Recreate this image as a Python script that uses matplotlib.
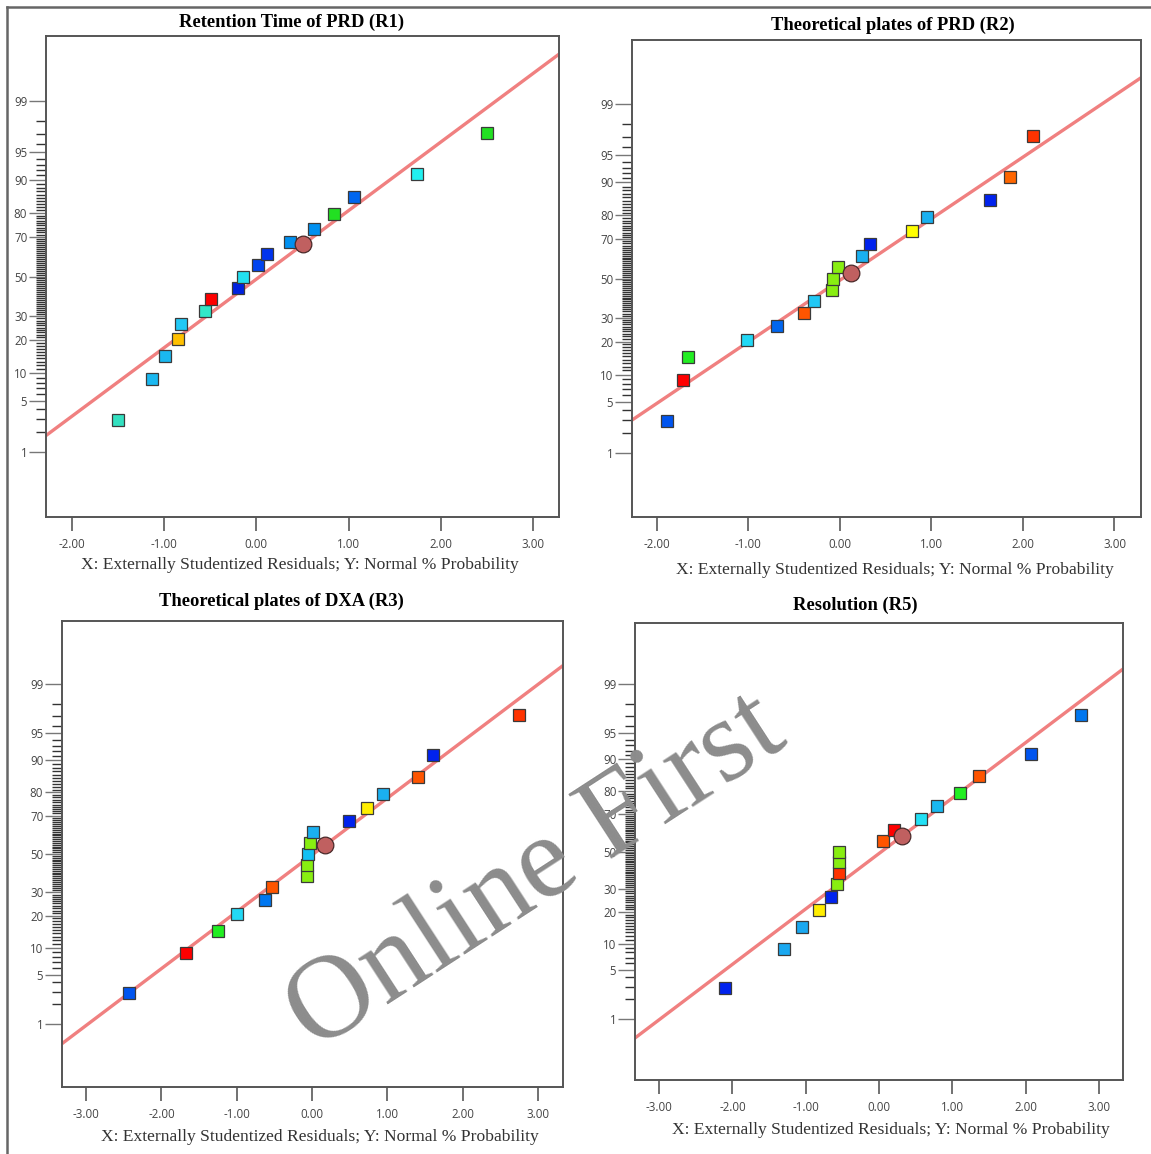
import matplotlib
matplotlib.use('Agg')
import matplotlib.pyplot as plt
import numpy as np
from matplotlib.lines import Line2D
from matplotlib.ticker import FixedLocator, NullFormatter, FormatStrFormatter
from statistics import NormalDist

plt.rcParams['axes.unicode_minus'] = False

W, H = 1151, 1154

# --------------------------------------------------
# DATA
# --------------------------------------------------

titles = ["Retention Time of PRD (R1)", "Theoretical plates of PRD (R2)",
          "Theoretical plates of DXA (R3)", "Resolution (R5)"]
xlabel = "X: Externally Studentized Residuals; Y: Normal % Probability"

# normal % probability of the ranked runs (same 17 levels on each plot)
probs = [2.9, 8.8, 14.7, 20.6, 26.5, 32.4, 38.2, 44.1, 50.0,
         55.9, 61.8, 67.6, 73.5, 79.4, 85.3, 91.2, 97.1]

resid_r1 = [-1.50, -1.13, -0.99, -0.85, -0.82, -0.56, -0.49, -0.20, -0.14,
            0.02, 0.12, 0.36, 0.62, 0.84, 1.06, 1.74, 2.50]
resid_r2 = [-1.89, -1.71, -1.66, -1.01, -0.69, -0.39, -0.28, -0.08, -0.07,
            -0.02, 0.24, 0.33, 0.79, 0.95, 1.64, 1.86, 2.11]
resid_r3 = [-2.43, -1.67, -1.25, -1.00, -0.62, -0.53, -0.07, -0.07, -0.06,
            -0.03, 0.01, 0.49, 0.73, 0.94, 1.41, 1.60, 2.74]
resid_r5 = [-2.10, -1.30, -1.05, -0.82, -0.65, -0.58, -0.55, -0.54, -0.54,
            0.05, 0.21, 0.57, 0.79, 1.10, 1.37, 2.07, 2.75]

colors_r1 = ['#33e0c0', '#1ab8f0', '#1ab8f0', '#ffc000', '#22c8f5', '#33e8c8',
             '#ff0000', '#0022e0', '#22e0f0', '#0044f0', '#0033ee', '#0090f0',
             '#0090f0', '#22e022', '#0066f0', '#22f0f0', '#22e022']
colors_r2 = ['#0055f0', '#ff0000', '#22ee22', '#22d8f5', '#0066f0', '#ff5500',
             '#22c8f5', '#88ee11', '#88ee11', '#88ee11', '#1ab0f0', '#0022ee',
             '#ffff00', '#1ab0f0', '#0022ee', '#ff6600', '#ff3300']
colors_r3 = ['#0055f0', '#ff0000', '#22ee22', '#22d8f5', '#0077f0', '#ff5500',
             '#88ee11', '#88ee11', '#11c0f5', '#88ee11', '#1ab0f0', '#0022ee',
             '#ffee00', '#1ab0f0', '#ff5500', '#0022ee', '#ff3300']
colors_r5 = ['#0022ee', '#1aa8f0', '#1aa8f0', '#ffee00', '#0022ee', '#88ee11',
             '#ff3300', '#88ee11', '#88ee11', '#ff5500', '#ff0000', '#22e0f5',
             '#1ab8f0', '#22ee22', '#ff5500', '#0055f0', '#0077f0']

# highlighted point (x, %)
circle_x = [0.50, 0.12, 0.165, 0.32]
circle_p = [66.5, 53.0, 54.8, 58.5]

# reference line: z = intercept + slope * x
line_icpt = [-0.035, -0.024, -0.012, -0.028]
line_slope = [0.907, 0.821, 0.776, 0.771]

xlims = [(-2.28, 3.28), (-2.27, 3.29), (-3.32, 3.33), (-3.33, 3.33)]
xticks = [[-2, -1, 0, 1, 2, 3], [-2, -1, 0, 1, 2, 3],
          [-3, -2, -1, 0, 1, 2, 3], [-3, -2, -1, 0, 1, 2, 3]]
ymajor = [1, 5, 10, 20, 30, 50, 70, 80, 90, 95, 99]
z_lim = 3.18

# --------------------------------------------------
# LAYOUT (pixel boxes: left, top, right, bottom)
# --------------------------------------------------
boxes = [(46, 36, 559, 517), (632, 40, 1141, 517),
         (62, 621, 563, 1087), (635, 623, 1123, 1080)]
title_pos = [(292, 22), (893, 25), (281, 601), (855, 605)]
xlabel_pos = [(300, 565), (895, 570), (320, 1137), (891, 1130)]

nd = NormalDist()


def fwd(p):
    p = np.clip(np.asarray(p, dtype=float), 1e-7, 100 - 1e-7)
    return np.vectorize(lambda v: nd.inv_cdf(v / 100.0), otypes=[float])(p)


def inv(z):
    z = np.asarray(z, dtype=float)
    return np.vectorize(lambda v: nd.cdf(v) * 100.0, otypes=[float])(z)


fig = plt.figure(figsize=(W / 100, H / 100), dpi=100)


def px(x, y):
    return x / W, 1 - y / H


resids = [resid_r1, resid_r2, resid_r3, resid_r5]
cols = [colors_r1, colors_r2, colors_r3, colors_r5]

for i in range(4):
    l, t, r, b = boxes[i]
    ax = fig.add_axes([l / W, 1 - b / H, (r - l) / W, (b - t) / H])
    ax.set_yscale('function', functions=(fwd, inv))
    ax.set_xlim(*xlims[i])
    ax.set_ylim(nd.cdf(-z_lim) * 100, nd.cdf(z_lim) * 100)

    # reference line
    xs = np.array(xlims[i])
    zs = line_icpt[i] + line_slope[i] * xs
    ax.plot(xs, inv(zs), color='#f08080', lw=2.4, zorder=2, solid_capstyle='butt')

    # runs
    for xv, pv, c in zip(resids[i], probs, cols[i]):
        ax.plot(xv, pv, marker='s', ms=8.8, mfc=c, mec='#3a3a3a', mew=0.9,
                ls='none', zorder=3)
    ax.plot(circle_x[i], circle_p[i], marker='o', ms=12, mfc='#c06060',
            mec='#4a2a2a', mew=0.9, ls='none', zorder=4)

    # ticks
    ax.set_xticks(xticks[i])
    ax.xaxis.set_major_formatter(FormatStrFormatter('%.2f'))
    ax.set_yticks(ymajor)
    ax.set_yticklabels([str(v) for v in ymajor])
    ax.yaxis.set_minor_locator(FixedLocator(list(range(1, 100))))
    ax.yaxis.set_minor_formatter(NullFormatter())
    ax.tick_params(axis='x', which='major', direction='out', length=10, width=1.3,
                   color='#666666', labelsize=8.3, labelcolor='#444444', pad=5)
    ax.tick_params(axis='y', which='major', direction='out', length=12, width=1.0,
                   color='#777777', labelsize=8.3, labelcolor='#444444', pad=1.5)
    ax.tick_params(axis='y', which='minor', direction='out', length=7, width=1.0,
                   color='#333333')
    ax.tick_params(axis='x', which='minor', length=0)
    for lab in ax.get_xticklabels() + ax.get_yticklabels():
        lab.set_family('Open Sans')
    for s in ax.spines.values():
        s.set_color('#555555')
        s.set_linewidth(1.4)

    tx, ty = title_pos[i]
    fig.text(*px(tx, ty), titles[i], ha='center', va='center', fontsize=13.3,
             fontweight='bold', family='Liberation Serif', color='black')
    lx, ly = xlabel_pos[i]
    fig.text(*px(lx, ly), xlabel, ha='center', va='center', fontsize=12.6,
             family='Liberation Serif', color='#333333')

# page frame
fig.add_artist(Line2D([7 / W, 1], [1 - 7 / H, 1 - 7 / H], color='#666666', lw=1.8))
fig.add_artist(Line2D([7 / W, 7 / W], [0, 1 - 7 / H], color='#666666', lw=1.8))

# watermark
fig.text(*px(537, 874), "Online First", fontsize=85, family='Liberation Serif',
         color='#8c8c8c', rotation=33, ha='center', va='center',
         rotation_mode='anchor', zorder=10)

fig.savefig('out.png', dpi=100)
